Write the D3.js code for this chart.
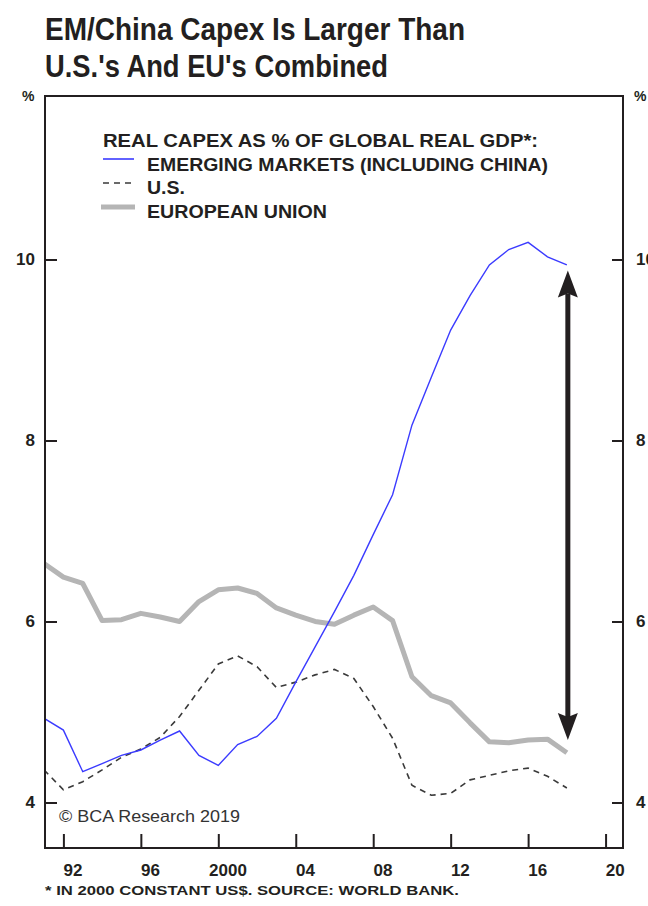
<!DOCTYPE html>
<html>
<head>
<meta charset="utf-8">
<script src="https://cdn.jsdelivr.net/npm/d3@7"></script>
<style>
  body { margin: 0; background: #fff; }
  text { font-family: "Liberation Sans", Arial, sans-serif; }
</style>
</head>
<body>
<svg id="chart" width="648" height="906"></svg>
<script>
// Real capex as % of global real GDP, annual
const years = d3.range(1991, 2019);
const emergingMarkets = [4.93, 4.80, 4.34, 4.43, 4.52, 4.58, 4.69, 4.79, 4.52, 4.41,
                         4.64, 4.73, 4.93, 5.33, 5.72, 6.11, 6.51, 6.96, 7.40, 8.17,
                         8.70, 9.22, 9.60, 9.94, 10.11, 10.19, 10.03, 9.94];
const unitedStates    = [4.36, 4.14, 4.23, 4.36, 4.50, 4.59, 4.72, 4.95, 5.24, 5.53,
                         5.62, 5.50, 5.27, 5.33, 5.41, 5.47, 5.37, 5.06, 4.71, 4.19,
                         4.08, 4.10, 4.25, 4.30, 4.35, 4.38, 4.29, 4.16];
const europeanUnion   = [6.64, 6.49, 6.42, 6.01, 6.02, 6.09, 6.05, 6.00, 6.22, 6.35,
                         6.37, 6.31, 6.15, 6.07, 6.00, 5.97, 6.07, 6.16, 6.01, 5.39,
                         5.18, 5.10, 4.88, 4.67, 4.66, 4.69, 4.70, 4.55];

const yTicks = [4, 6, 8, 10];
const xTickYears = [1992, 1996, 2000, 2004, 2008, 2012, 2016, 2020];
const xTickLabels = ["92", "96", "2000", "04", "08", "12", "16", "20"];

// gap arrow between EM and EU in the latest year
const gapYear = 2018, gapLow = 4.69, gapHigh = 9.88;

const legendTitle = "REAL CAPEX AS % OF GLOBAL REAL GDP*:";
const seriesNames = ["EMERGING MARKETS (INCLUDING CHINA)", "U.S.", "EUROPEAN UNION"];

const svg = d3.select("#chart");
const ink = "#231f20";
const frame = { left: 45, top: 96, right: 623, bottom: 848 };

const x = d3.scaleLinear().domain([1991.05, 2020.9]).range([frame.left, frame.right]);
const y = d3.scaleLinear().domain([3.497, 11.807]).range([frame.bottom, frame.top]);

// title
const title = svg.append("g").attr("fill", ink)
  .style("font-family", "Roboto, 'Liberation Sans', sans-serif")
  .style("font-weight", 700).style("font-size", "32px");
title.append("text").attr("x", 45).attr("y", 40)
  .attr("textLength", 420).attr("lengthAdjust", "spacingAndGlyphs")
  .text("EM/China Capex Is Larger Than");
title.append("text").attr("x", 45).attr("y", 77)
  .attr("textLength", 343).attr("lengthAdjust", "spacingAndGlyphs")
  .text("U.S.'s And EU's Combined");

// unit markers
svg.append("text").attr("x", 22).attr("y", 101).attr("font-size", 14).attr("font-weight", 700)
  .attr("fill", ink).text("%");
svg.append("text").attr("x", 634).attr("y", 101).attr("font-size", 14).attr("font-weight", 700)
  .attr("fill", ink).text("%");

// clip for series
svg.append("clipPath").attr("id", "plot-clip").append("rect")
  .attr("x", frame.left).attr("y", frame.top)
  .attr("width", frame.right - frame.left).attr("height", frame.bottom - frame.top);

const line = vals => d3.line()
  .x((d, i) => x(years[i]))
  .y(d => y(d))(vals);

const plot = svg.append("g").attr("clip-path", "url(#plot-clip)");
plot.append("path").attr("d", line(europeanUnion))
  .attr("fill", "none").attr("stroke", "#b5b5b5").attr("stroke-width", 5)
  .attr("stroke-linejoin", "round");
plot.append("path").attr("d", line(unitedStates))
  .attr("fill", "none").attr("stroke", "#3a3a3a").attr("stroke-width", 1.6)
  .attr("stroke-dasharray", "6,5");
plot.append("path").attr("d", line(emergingMarkets))
  .attr("fill", "none").attr("stroke", "#3b3bff").attr("stroke-width", 1.4);

// double-headed arrow
const ax = x(gapYear) + 1;
const yTop = y(gapHigh), yBot = y(gapLow);
const headLen = 27, headHalf = 10, notch = 4;
plot.append("line").attr("x1", ax).attr("x2", ax)
  .attr("y1", yTop + headLen - notch).attr("y2", yBot - headLen + notch)
  .attr("stroke", ink).attr("stroke-width", 5);
plot.append("path")
  .attr("d", `M${ax},${yTop} L${ax + headHalf},${yTop + headLen} L${ax},${yTop + headLen - notch} L${ax - headHalf},${yTop + headLen} Z`)
  .attr("fill", ink);
plot.append("path")
  .attr("d", `M${ax},${yBot} L${ax + headHalf},${yBot - headLen} L${ax},${yBot - headLen + notch} L${ax - headHalf},${yBot - headLen} Z`)
  .attr("fill", ink);

// axes
const styleAxis = g => {
  g.select(".domain").remove();
  g.selectAll(".tick line").attr("stroke", ink).attr("stroke-width", 2);
  g.selectAll(".tick text").attr("fill", ink)
    .style("font-family", "'Liberation Sans', Arial, sans-serif")
    .style("font-size", "17px").style("font-weight", 700);
};

svg.append("g").attr("transform", `translate(${frame.left},0)`)
  .call(d3.axisLeft(y).tickValues(yTicks).tickSize(-12).tickPadding(10).tickFormat(d3.format("d")))
  .call(styleAxis);
svg.append("g").attr("transform", `translate(${frame.right},0)`)
  .call(d3.axisRight(y).tickValues(yTicks).tickSize(-11).tickPadding(13).tickFormat(d3.format("d")))
  .call(styleAxis);
svg.append("g").attr("transform", `translate(0,${frame.bottom})`)
  .call(d3.axisBottom(x).tickValues(xTickYears).tickSize(-14).tickFormat(""))
  .call(styleAxis);

// year labels sit at mid-year
svg.append("g").selectAll("text").data(xTickYears).join("text")
  .attr("x", d => x(d + 0.5)).attr("y", 876)
  .attr("text-anchor", "middle").attr("fill", ink)
  .attr("font-size", 17).attr("font-weight", 700)
  .text((d, i) => xTickLabels[i]);

// frame
svg.append("rect").attr("x", frame.left).attr("y", frame.top)
  .attr("width", frame.right - frame.left).attr("height", frame.bottom - frame.top)
  .attr("fill", "none").attr("stroke", ink).attr("stroke-width", 2);

// legend
const legend = svg.append("g").attr("fill", ink).attr("font-weight", 700).attr("font-size", 17.5);
legend.append("text").attr("x", 103).attr("y", 147)
  .attr("textLength", 435).attr("lengthAdjust", "spacingAndGlyphs").text(legendTitle);
const entryY = [171, 194, 217.5];
const entryW = [401, 38, 180];
legend.selectAll("text.entry").data(seriesNames).join("text").attr("class", "entry")
  .attr("x", 147).attr("y", (d, i) => entryY[i])
  .attr("textLength", (d, i) => entryW[i]).attr("lengthAdjust", "spacingAndGlyphs")
  .text(d => d);
legend.append("line").attr("x1", 103).attr("x2", 134).attr("y1", 159).attr("y2", 159)
  .attr("stroke", "#3b3bff").attr("stroke-width", 1.6);
legend.append("line").attr("x1", 103).attr("x2", 134).attr("y1", 183).attr("y2", 183)
  .attr("stroke", "#3a3a3a").attr("stroke-width", 1.6).attr("stroke-dasharray", "6,5");
legend.append("path").attr("d", "M101,207 L135,207")
  .attr("stroke", "#b5b5b5").attr("stroke-width", 5);

// copyright
svg.append("text").attr("x", 59).attr("y", 822).attr("fill", "#333")
  .attr("font-size", 16.5).attr("textLength", 181).attr("lengthAdjust", "spacingAndGlyphs")
  .text("© BCA Research 2019");

// footnote
svg.append("text").attr("x", 45).attr("y", 895).attr("fill", ink)
  .attr("font-size", 13).attr("font-weight", 700)
  .attr("textLength", 414).attr("lengthAdjust", "spacingAndGlyphs")
  .text("* IN 2000 CONSTANT US$. SOURCE: WORLD BANK.");
</script>
</body>
</html>
